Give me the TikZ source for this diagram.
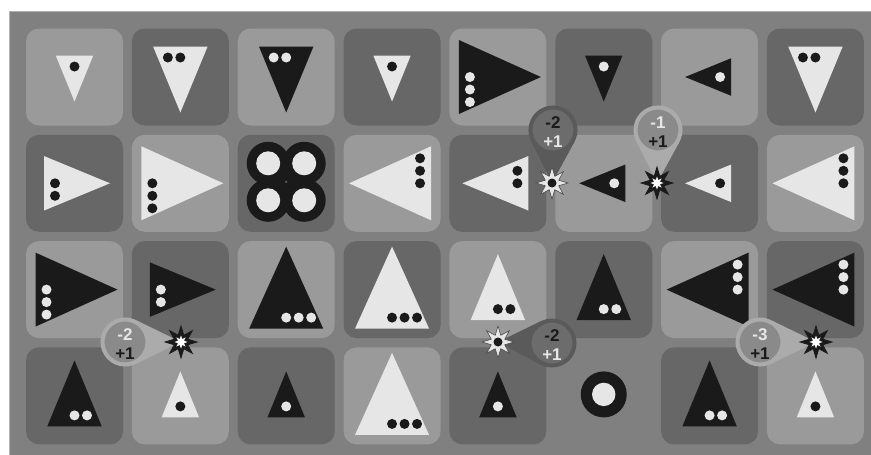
\documentclass[tikz,border=0pt]{standalone}
\usepackage{fontspec}
\setmainfont{Liberation Sans}
\usetikzlibrary{shapes.geometric,calc}
\pgfdeclarelayer{tails}
\pgfdeclarelayer{front}
\pgfsetlayers{main,tails,front}
\definecolor{bgc}{HTML}{808080}
\definecolor{lt}{HTML}{9A9A9A}
\definecolor{dk}{HTML}{676767}
\definecolor{wh}{HTML}{E6E6E6}
\definecolor{bk}{HTML}{1A1A1A}
\definecolor{dkring}{HTML}{5A5A5A}
\definecolor{dkfill}{HTML}{6C6C6C}
\definecolor{ltring}{HTML}{ABABAB}
\definecolor{ltfill}{HTML}{8A8A8A}
\colorlet{dktop}{bk}
\colorlet{dkbot}{wh}
\colorlet{lttop}{wh}
\colorlet{ltbot}{bk}
\tikzset{
  tile/.style={rounded corners=13pt, minimum width=97pt, minimum height=97pt, inner sep=0pt},
  ltile/.style={tile, fill=lt},
  dtile/.style={tile, fill=dk},
  pinbase/.style={circle, minimum size=45pt, line width=4pt, inner sep=0pt},
  dkpin/.style={pinbase, draw=dkring, fill=dkfill},
  ltpin/.style={pinbase, draw=ltring, fill=ltfill},
  pintxt/.style={align=center, inner sep=0pt, font=\bfseries\fontsize{17}{19}\selectfont},
  starbase/.style={star, star points=8, star point ratio=2.2, minimum size=32pt, inner sep=0pt},
  ltstar/.style={starbase, fill=bk, draw=bk, line width=0.8pt},
  dkstar/.style={starbase, fill=wh, draw=bk!80, line width=0.6pt},
  ltcore/.style={star, star points=8, star point ratio=2, minimum size=13pt, inner sep=0pt, fill=white},
  dkcore/.style={circle, minimum size=9pt, inner sep=0pt, fill=bk},
  dktail/.style={fill=dkring},
  lttail/.style={fill=ltring},
  ring/.style={fill=bk},
  hole/.style={fill=wh}
}
% triangle: #1 tile, #2 angle, #3 L, #4 W, #5 shift, #6 fill, #7 dot colour, #8 dots
\newcommand\Tri[8]{%
  \begin{scope}[shift={(#1)},rotate=#2]
    \fill[#6] ({-#3/2+#5},{-#4/2}) -- ({#3/2+#5},0) -- ({-#3/2+#5},{#4/2}) -- cycle;
    \foreach \k in {1,...,#8} \fill[#7] ({-#3/2+#5+11},{(\k-1)*12.5}) circle[radius=5pt];
  \end{scope}}
\newcommand\Tsm[5]{\Tri{#1}{#2}{46}{37.5}{1.5}{#3}{#4}{#5}}
\newcommand\Tmd[5]{\Tri{#1}{#2}{66}{54.5}{2.5}{#3}{#4}{#5}}
\newcommand\Tlg[5]{\Tri{#1}{#2}{82}{74}{2}{#3}{#4}{#5}}
% pin: #1 id, #2 circle pos, #3 star pos, #4 direction, #5 dk/lt, #6 top, #7 bottom
\newcommand\Pin[7]{%
  \begin{pgfonlayer}{front}
    \node[#5pin] (p#1) at (#2) {};
    \node[pintxt] (x#1) at ($(#2)+(0,2)$) {{\color{#5top}#6}\\{\color{#5bot}#7}};
    \node[#5star] (s#1) at (#3) {};
    \node[#5core] (c#1) at (s#1.center) {};
  \end{pgfonlayer}
  \begin{pgfonlayer}{tails}
    \fill[#5tail] ($(p#1.center)+(#4+62:24.5)$) -- (s#1.center) -- ($(p#1.center)+(#4-62:24.5)$) -- cycle;
  \end{pgfonlayer}}
\begin{document}
\begin{tikzpicture}[x=1pt,y=-1pt]
\useasboundingbox (0,0) rectangle (871,455);
\fill[white] (0,0) rectangle (871,455);
\fill[bgc] (9,11) rectangle (871,455);
\draw[line width=1.2pt, draw=white!70!black] (9.6,455) -- (9.6,11.6) -- (871,11.6);
\foreach \r in {1,...,4}{
  \foreach \c in {1,...,8}{
    \pgfmathsetmacro\tx{74.5+105.85*(\c-1)}
    \pgfmathsetmacro\ty{77+106.3*(\r-1)}
    \pgfmathtruncatemacro\pp{mod(\r+\c,2)}
    \ifnum\r\c=46 \coordinate (t\r\c) at (\tx,\ty);
    \else
      \ifnum\pp=0 \node[ltile] (t\r\c) at (\tx,\ty) {};
      \else \node[dtile] (t\r\c) at (\tx,\ty) {};
      \fi
    \fi
  }}
% row 1
\Tsm{t11}{-90}{wh}{bk}{1}
\Tmd{t12}{-90}{wh}{bk}{2}
\Tmd{t13}{-90}{bk}{wh}{2}
\Tsm{t14}{-90}{wh}{bk}{1}
\Tlg{t15}{0}{bk}{wh}{3}
\Tsm{t16}{-90}{bk}{wh}{1}
\Tsm{t17}{180}{bk}{wh}{1}
\Tmd{t18}{-90}{wh}{bk}{2}
% row 2
\Tmd{t21}{0}{wh}{bk}{2}
\Tlg{t22}{0}{wh}{bk}{3}
\begin{scope}[shift={($(t23)+(0,-1.5)$)}]
  \foreach \a/\b in {-18/-18.5,18/-18.5,-18/18.5,18/18.5} \fill[ring] (\a,\b) circle[radius=21.5pt];
  \fill[ring] (-18,-18.5) rectangle (18,18.5);
  \foreach \a/\b in {-18/-18.5,18/-18.5,-18/18.5,18/18.5} \fill[hole] (\a,\b) circle[radius=12pt];
  \fill[dk] (0,0) circle[radius=1.2pt];
\end{scope}
\Tlg{t24}{180}{wh}{bk}{3}
\Tmd{t25}{180}{wh}{bk}{2}
\Tsm{t26}{180}{bk}{wh}{1}
\Tsm{t27}{180}{wh}{bk}{1}
\Tlg{t28}{180}{wh}{bk}{3}
% row 3
\Tlg{t31}{0}{bk}{wh}{3}
\Tmd{t32}{0}{bk}{wh}{2}
\Tlg{t33}{90}{bk}{wh}{3}
\Tlg{t34}{90}{wh}{bk}{3}
\Tmd{t35}{90}{wh}{bk}{2}
\Tmd{t36}{90}{bk}{wh}{2}
\Tlg{t37}{180}{bk}{wh}{3}
\Tlg{t38}{180}{bk}{wh}{3}
% row 4
\Tmd{t41}{90}{bk}{wh}{2}
\Tsm{t42}{90}{wh}{bk}{1}
\Tsm{t43}{90}{bk}{wh}{1}
\Tlg{t44}{90}{wh}{bk}{3}
\Tsm{t45}{90}{bk}{wh}{1}
\fill[ring] ($(t46)+(0,-1.5)$) circle[radius=23pt];
\fill[hole] ($(t46)+(0,-1.5)$) circle[radius=11.7pt];
\Tmd{t47}{90}{bk}{wh}{2}
\Tsm{t48}{90}{wh}{bk}{1}
% pins
\Pin{1}{553,130}{552,183}{90}{dk}{-2}{+1}
\Pin{2}{658,130}{657,183}{90}{lt}{-1}{+1}
\Pin{3}{125,342}{181,342}{0}{lt}{-2}{+1}
\Pin{4}{552,343}{498,342}{180}{dk}{-2}{+1}
\Pin{5}{760,342}{816,342}{0}{lt}{-3}{+1}
\end{tikzpicture}
\end{document}
